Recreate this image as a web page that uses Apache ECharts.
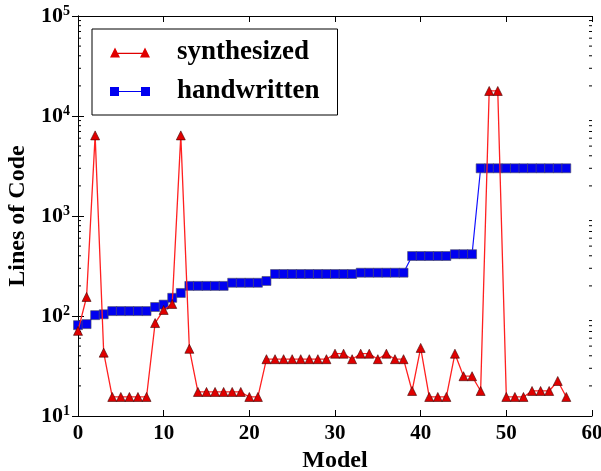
<!DOCTYPE html>
<html>
<head>
<meta charset="utf-8">
<script src="https://cdn.jsdelivr.net/npm/echarts@6/dist/echarts.min.js"></script>
<style>
  html, body { margin: 0; padding: 0; background: #fff; }
  #chart { width: 601px; height: 471px; }
</style>
</head>
<body>
<div id="chart"></div>
<script>
// values, one per model (0..57)
var synthesized = [71, 155, 6400, 43, 15.5, 15.5, 15.5, 15.5, 15.5, 85, 115, 132, 6400, 47,
    17.4, 17.4, 17.4, 17.4, 17.4, 17.4, 15.5, 15.5, 37, 37, 37, 37, 37, 37, 37, 37,
    42, 42, 37, 42, 42, 37, 42, 37, 37, 17.8, 48, 15.5, 15.5, 15.5, 42, 25, 25, 17.8,
    17800, 17800, 15.5, 15.5, 15.5, 17.8, 17.8, 17.8, 22.4, 15.5];
var handwritten = [81, 83, 102, 104, 112, 112, 112, 112, 112, 123, 130, 152, 170,
    200, 200, 200, 200, 200, 215, 215, 215, 215, 224,
    263, 263, 263, 263, 263, 263, 263, 263, 263, 263,
    271, 271, 271, 271, 271, 271,
    398, 398, 398, 398, 398, 415, 415, 415,
    3000, 3000, 3000, 3000, 3000, 3000, 3000, 3000, 3000, 3000, 3000];
var xTicks = [0, 10, 20, 30, 40, 50, 60];
var decades = [10, 100, 1000, 10000];
var minorMultiples = [2, 3, 4, 5, 6, 7, 8, 9];

var serif = 'Liberation Serif';

var minorTicks = [];
decades.forEach(function (d) {
    minorMultiples.forEach(function (m) { minorTicks.push([0, d * m]); });
});

var chart = echarts.init(document.getElementById('chart'));

var tickLabel = { fontFamily: serif, fontWeight: 'bold', fontSize: 21, color: '#000' };

var option = {
    animation: false,
    grid: { left: 78, right: 9, top: 16, bottom: 55, outerBoundsMode: 'none', containLabel: false },
    legend: {
        left: 92, top: 29,
        orient: 'vertical',
        borderColor: '#000', borderWidth: 1, borderRadius: 0,
        padding: [10, 18, 10, 18],
        itemGap: 12,
        itemWidth: 40, itemHeight: 10,
        itemStyle: { borderWidth: 0 },
        textStyle: { fontFamily: serif, fontWeight: 'bold', fontSize: 27, color: '#000', padding: [0, 0, 0, 22] },
        data: [
            { name: 'synthesized', icon: 'path://M0,10 L5,0 L10,10 Z M30,10 L35,0 L40,10 Z M5,5.2 L35,5.2 L35,6.6 L5,6.6 Z' },
            { name: 'handwritten', icon: 'path://M0,0 L9,0 L9,9 L0,9 Z M31,0 L40,0 L40,9 L31,9 Z M9,3.9 L31,3.9 L31,5.1 L9,5.1 Z' }
        ]
    },
    xAxis: [{
        type: 'value', min: 0, max: 60, interval: 10,
        name: 'Model', nameLocation: 'middle', nameGap: 31,
        nameTextStyle: { fontFamily: serif, fontWeight: 'bold', fontSize: 24, color: '#000' },
        axisLine: { lineStyle: { color: '#000', width: 1 } },
        axisTick: { inside: true, length: 6, lineStyle: { color: '#000' } },
        axisLabel: Object.assign({ margin: 7, formatter: function (v) { return xTicks.indexOf(v) >= 0 ? String(v) : ''; } }, tickLabel),
        splitLine: { show: false }
    }, {
        type: 'value', min: 0, max: 60, interval: 10, position: 'top',
        axisLine: { lineStyle: { color: '#000', width: 1 } },
        axisTick: { inside: true, length: 6, lineStyle: { color: '#000' } },
        axisLabel: { show: false },
        splitLine: { show: false }
    }],
    yAxis: [{
        type: 'log', logBase: 10, min: 10, max: 100000,
        name: 'Lines of Code', nameLocation: 'middle', nameGap: 44, nameRotate: 90,
        nameTextStyle: { fontFamily: serif, fontWeight: 'bold', fontSize: 24, color: '#000' },
        axisLine: { show: true, lineStyle: { color: '#000', width: 1 } },
        axisTick: { inside: true, length: 6, lineStyle: { color: '#000' } },
        axisLabel: {
            margin: 8,
            formatter: function (v) { return '{b|10}{e|' + Math.round(Math.log10(v)) + '}'; },
            rich: {
                b: { fontFamily: serif, fontWeight: 'bold', fontSize: 22, color: '#000', lineHeight: 24 },
                e: { fontFamily: serif, fontWeight: 'bold', fontSize: 14, color: '#000', verticalAlign: 'top', lineHeight: 24, padding: [0, 0, 12, 0] }
            }
        },
        splitLine: { show: false }
    }, {
        type: 'log', logBase: 10, min: 10, max: 100000, position: 'right',
        axisLine: { show: true, lineStyle: { color: '#000', width: 1 } },
        axisTick: { inside: true, length: 6, lineStyle: { color: '#000' } },
        axisLabel: { show: false },
        splitLine: { show: false }
    }],
    series: [{
        name: 'synthesized',
        type: 'line',
        data: synthesized.map(function (v, i) { return [i, v]; }),
        symbol: 'triangle', symbolSize: 9,
        lineStyle: { color: '#ff2020', width: 1.3 },
        itemStyle: { color: '#e00000', borderColor: '#400000', borderWidth: 0.6 },
        z: 3
    }, {
        name: 'handwritten',
        type: 'line',
        data: handwritten.map(function (v, i) { return [i, v]; }),
        symbol: 'rect', symbolSize: 9,
        lineStyle: { color: '#1010ff', width: 1.2 },
        itemStyle: { color: '#0000f0', borderColor: '#505060', borderWidth: 0.6 },
        z: 2
    }, {
        type: 'custom',
        silent: true,
        data: minorTicks,
        encode: { x: 0, y: 1 },
        clip: false,
        renderItem: function (params, api) {
            var cs = params.coordSys;
            var y = api.coord([0, api.value(1)])[1];
            var st = { stroke: '#000', lineWidth: 1 };
            return {
                type: 'group',
                children: [
                    { type: 'line', shape: { x1: cs.x, y1: y, x2: cs.x + 3, y2: y }, style: st },
                    { type: 'line', shape: { x1: cs.x + cs.width - 3, y1: y, x2: cs.x + cs.width, y2: y }, style: st }
                ]
            };
        }
    }]
};

chart.setOption(option);
</script>
</body>
</html>
